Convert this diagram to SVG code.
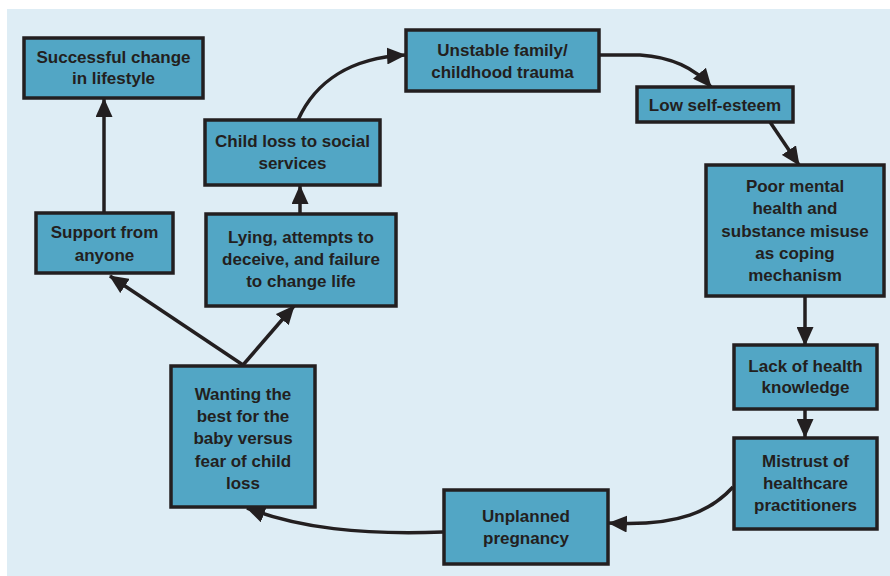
<svg xmlns="http://www.w3.org/2000/svg" width="890" height="576" viewBox="0 0 890 576">
<defs>
<marker id="ah" markerUnits="userSpaceOnUse" markerWidth="19" markerHeight="17" refX="18" refY="8.5" orient="auto">
<path d="M0,0 L19,8.5 L0,17 Z" fill="#231f20"/>
</marker>
<style>
.box{fill:#52a6c5;stroke:#231f20;stroke-width:3.5}
.t{font-family:"Liberation Sans",Arial,sans-serif;font-weight:bold;font-size:17px;fill:#231f20;text-anchor:middle}
.c{fill:none;stroke:#231f20;stroke-width:3.5;marker-end:url(#ah)}
</style>
</defs>
<rect x="0" y="0" width="890" height="576" fill="#ffffff"/>
<rect x="7" y="9" width="883" height="567" fill="#deedf5"/>
<g id="connectors">
<path class="c" d="M104,213 L104,99"/>
<path class="c" d="M243,365 L110,276"/>
<path class="c" d="M243,365 L294,306"/>
<path class="c" d="M300,213 L300,186"/>
<path class="c" d="M298,120 C315,82 350,58 405,55"/>
<path class="c" d="M599,55 L640,55 C670,57 695,68 711,87"/>
<path class="c" d="M770,122 L799,165"/>
<path class="c" d="M805,296 L805,345"/>
<path class="c" d="M805,409 L805,437"/>
<path class="c" d="M733,487 C712,510 680,527 609,523"/>
<path class="c" d="M443,532 C360,535 300,528 247,508"/>
</g>
<g id="n-success">
<rect class="box" x="24" y="38" width="179" height="60"/>
<text class="t" x="113.5" y="63">Successful change</text>
<text class="t" x="113.5" y="84">in lifestyle</text>
</g>
<g id="n-childloss">
<rect class="box" x="205" y="120" width="175" height="65"/>
<text class="t" x="292.5" y="147">Child loss to social</text>
<text class="t" x="292.5" y="169">services</text>
</g>
<g id="n-unstable">
<rect class="box" x="406" y="30" width="193" height="61"/>
<text class="t" x="502.5" y="56">Unstable family/</text>
<text class="t" x="502.5" y="78">childhood trauma</text>
</g>
<g id="n-lowself">
<rect class="box" x="637" y="87" width="156" height="35"/>
<text class="t" x="715" y="111">Low self-esteem</text>
</g>
<g id="n-poormental">
<rect class="box" x="706" y="165" width="178" height="131"/>
<text class="t" x="795" y="192">Poor mental</text>
<text class="t" x="795" y="214">health and</text>
<text class="t" x="795" y="237">substance misuse</text>
<text class="t" x="795" y="259">as coping</text>
<text class="t" x="795" y="281">mechanism</text>
</g>
<g id="n-lack">
<rect class="box" x="734" y="345" width="143" height="64"/>
<text class="t" x="805.5" y="372">Lack of health</text>
<text class="t" x="805.5" y="393">knowledge</text>
</g>
<g id="n-mistrust">
<rect class="box" x="734" y="438" width="143" height="91"/>
<text class="t" x="805.5" y="467">Mistrust of</text>
<text class="t" x="805.5" y="489">healthcare</text>
<text class="t" x="805.5" y="511">practitioners</text>
</g>
<g id="n-unplanned">
<rect class="box" x="444" y="490" width="164" height="74"/>
<text class="t" x="526" y="522">Unplanned</text>
<text class="t" x="526" y="544">pregnancy</text>
</g>
<g id="n-wanting">
<rect class="box" x="171" y="366" width="144" height="141"/>
<text class="t" x="243" y="400">Wanting the</text>
<text class="t" x="243" y="422">best for the</text>
<text class="t" x="243" y="444">baby versus</text>
<text class="t" x="243" y="467">fear of child</text>
<text class="t" x="243" y="489">loss</text>
</g>
<g id="n-support">
<rect class="box" x="36" y="213" width="137" height="60"/>
<text class="t" x="104.5" y="238">Support from</text>
<text class="t" x="104.5" y="261">anyone</text>
</g>
<g id="n-lying">
<rect class="box" x="206" y="214" width="190" height="92"/>
<text class="t" x="301" y="243">Lying, attempts to</text>
<text class="t" x="301" y="265">deceive, and failure</text>
<text class="t" x="301" y="287">to change life</text>
</g>
</svg>
